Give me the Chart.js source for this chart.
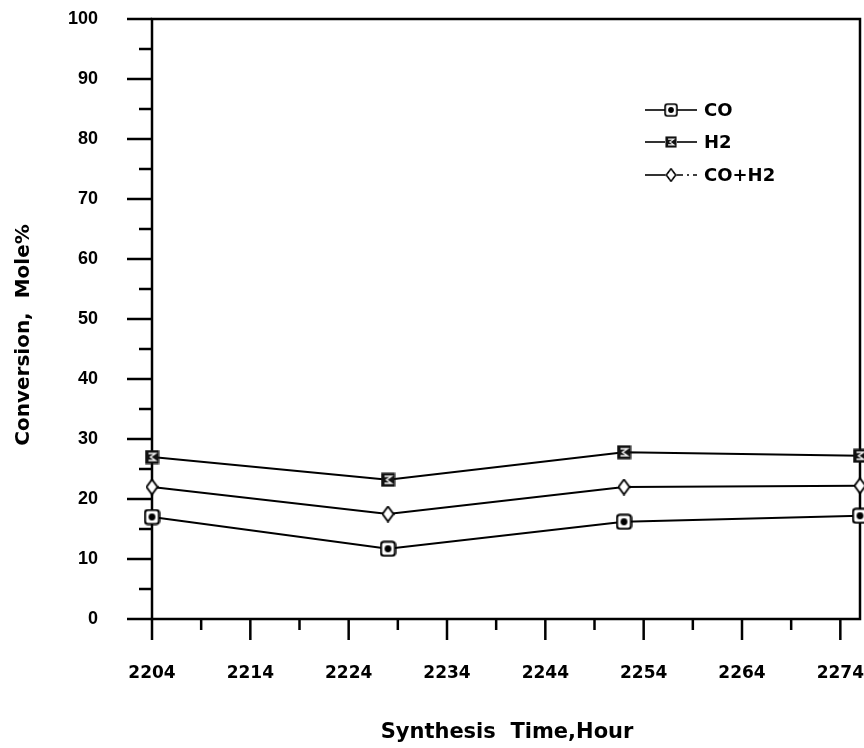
<!DOCTYPE html>
<html><head><meta charset="utf-8">
<script src="https://cdn.jsdelivr.net/npm/chart.js@4"></script>
<style>html,body{margin:0;padding:0;background:#fff}#wrap{width:864px;height:748px}</style>
</head><body><div id="wrap"><canvas id="c" width="864" height="748"></canvas></div>
<script>
// ---- data ----
const hours = [2204, 2228, 2252, 2276];
const coConv = [17.0, 11.7, 16.2, 17.2];
const h2Conv = [27.0, 23.2, 27.8, 27.2];
const totalConv = [22.0, 17.5, 22.0, 22.2];
const seriesNames = ['CO', 'H2', 'CO+H2'];
const xTickLabels = [2204, 2214, 2224, 2234, 2244, 2254, 2264, 2274];
const xMinorTicks = [2209, 2219, 2229, 2239, 2249, 2259, 2269];
const yTickLabels = [0, 10, 20, 30, 40, 50, 60, 70, 80, 90, 100];
const yMinorTicks = [5, 15, 25, 35, 45, 55, 65, 75, 85, 95];
const xTitle = 'Synthesis  Time,Hour';
const yTitle = 'Conversion,  Mole%';

// ---- marker images ----
function mk(w, h, fn) { const c = document.createElement('canvas'); c.width = w; c.height = h; fn(c.getContext('2d')); return c; }
function rr(ctx, x, y, w, h, r) { ctx.beginPath(); ctx.moveTo(x + r, y); ctx.arcTo(x + w, y, x + w, y + h, r); ctx.arcTo(x + w, y + h, x, y + h, r); ctx.arcTo(x, y + h, x, y, r); ctx.arcTo(x, y, x + w, y, r); ctx.closePath(); }
const coMarker = mk(17, 17, ctx => {
  rr(ctx, 1.5, 1.5, 14, 14, 3); ctx.fillStyle = '#fff'; ctx.fill(); ctx.lineWidth = 2.2; ctx.strokeStyle = '#000'; ctx.stroke();
  ctx.beginPath(); ctx.arc(8.5, 8.5, 3.4, 0, Math.PI * 2); ctx.fillStyle = '#000'; ctx.fill();
});
const h2Marker = mk(15, 15, ctx => {
  ctx.fillStyle = '#111'; ctx.fillRect(0.5, 0.5, 14, 14);
  ctx.strokeStyle = '#fff'; ctx.lineWidth = 1.4;
  ctx.beginPath(); ctx.moveTo(4, 4); ctx.lineTo(11, 4); ctx.lineTo(6, 7.5); ctx.lineTo(11, 11); ctx.lineTo(4, 11); ctx.stroke();
});
const totMarker = mk(13, 17, ctx => {
  ctx.beginPath(); ctx.moveTo(6.5, 1); ctx.lineTo(12, 8.5); ctx.lineTo(6.5, 16); ctx.lineTo(1, 8.5); ctx.closePath();
  ctx.fillStyle = '#fff'; ctx.fill(); ctx.lineWidth = 1.8; ctx.strokeStyle = '#000'; ctx.stroke();
});
const markers = [coMarker, h2Marker, totMarker];

function pts(vals) { return hours.map((h, i) => ({ x: h, y: vals[i] })); }

const framePlugin = {
  id: 'frame',
  beforeDatasetsDraw(chart) {
    const { ctx, chartArea: a, scales: { x, y } } = chart;
    ctx.save();
    ctx.strokeStyle = '#000'; ctx.lineWidth = 2.5; ctx.lineCap = 'butt';
    ctx.strokeRect(a.left, a.top, a.right - a.left, a.bottom - a.top);
    ctx.beginPath();
    yTickLabels.forEach(v => { const p = y.getPixelForValue(v); ctx.moveTo(a.left - 25, p); ctx.lineTo(a.left, p); });
    yMinorTicks.forEach(v => { const p = y.getPixelForValue(v); ctx.moveTo(a.left - 13, p); ctx.lineTo(a.left, p); });
    xTickLabels.forEach(v => { const p = x.getPixelForValue(v); ctx.moveTo(p, a.bottom); ctx.lineTo(p, a.bottom + 21); });
    xMinorTicks.forEach(v => { const p = x.getPixelForValue(v); ctx.moveTo(p, a.bottom); ctx.lineTo(p, a.bottom + 11); });
    ctx.stroke();
    ctx.restore();
  },
  afterDraw(chart) {
    const { ctx } = chart;
    ctx.save();
    ctx.fillStyle = '#000';
    // axis titles
    ctx.font = 'bold 21px "DejaVu Sans"';
    ctx.textAlign = 'center'; ctx.textBaseline = 'middle';
    ctx.fillText(xTitle, 507, 733);
    ctx.save();
    ctx.translate(24, 335); ctx.rotate(-Math.PI / 2);
    ctx.font = 'bold 20px "DejaVu Sans"';
    ctx.fillText(yTitle, 0, 0);
    ctx.restore();
    // legend
    const ys = [110, 142, 175];
    ctx.font = 'bold 18px "DejaVu Sans"';
    ctx.textAlign = 'left';
    seriesNames.forEach((n, i) => {
      const yy = ys[i];
      ctx.strokeStyle = '#000'; ctx.lineWidth = 1.6;
      ctx.beginPath(); ctx.moveTo(645, yy); ctx.lineTo(665, yy); ctx.stroke();
      if (i === 2) { ctx.setLineDash([6, 4, 2, 4]); }
      ctx.beginPath(); ctx.moveTo(677, yy); ctx.lineTo(697, yy); ctx.stroke();
      ctx.setLineDash([]);
      const m = markers[i];
      const s = i === 1 ? 0.8 : 0.85;
      ctx.drawImage(m, 671 - m.width * s / 2, yy - m.height * s / 2, m.width * s, m.height * s);
      ctx.fillText(n, 704, yy + 1);
    });
    ctx.restore();
  }
};

new Chart(document.getElementById('c'), {
  type: 'line',
  data: {
    datasets: [
      { label: seriesNames[0], data: pts(coConv), pointStyle: coMarker },
      { label: seriesNames[1], data: pts(h2Conv), pointStyle: h2Marker },
      { label: seriesNames[2], data: pts(totalConv), pointStyle: totMarker }
    ].map(d => Object.assign(d, { borderColor: '#000', borderWidth: 2, tension: 0, clip: false, pointRadius: 8, fill: false }))
  },
  options: {
    responsive: false, animation: false, devicePixelRatio: 1,
    layout: { autoPadding: false, padding: { top: 19, right: 4, left: 0, bottom: 0 } },
    plugins: { legend: { display: false }, tooltip: { enabled: false } },
    scales: {
      x: {
        type: 'linear', min: 2204, max: 2276,
        afterFit: s => { s.height = 129; s.paddingLeft = 0; s.paddingRight = 0; },
        afterBuildTicks: s => { s.ticks = xTickLabels.map(v => ({ value: v })); },
        grid: { display: false, drawTicks: false },
        border: { display: false },
        ticks: { color: '#000', font: { family: 'DejaVu Sans', weight: 'bold', size: 17 }, padding: 44, maxRotation: 0, autoSkip: false, callback: v => String(v) }
      },
      y: {
        min: 0, max: 100,
        afterFit: s => { s.width = 152; s.paddingTop = 0; s.paddingBottom = 0; },
        afterBuildTicks: s => { s.ticks = yTickLabels.map(v => ({ value: v })); },
        grid: { display: false, drawTicks: false },
        border: { display: false },
        ticks: { color: '#000', font: { family: 'Liberation Sans', weight: 'bold', size: 18 }, padding: 54, callback: v => String(v) }
      }
    }
  },
  plugins: [framePlugin]
});
</script></body></html>
